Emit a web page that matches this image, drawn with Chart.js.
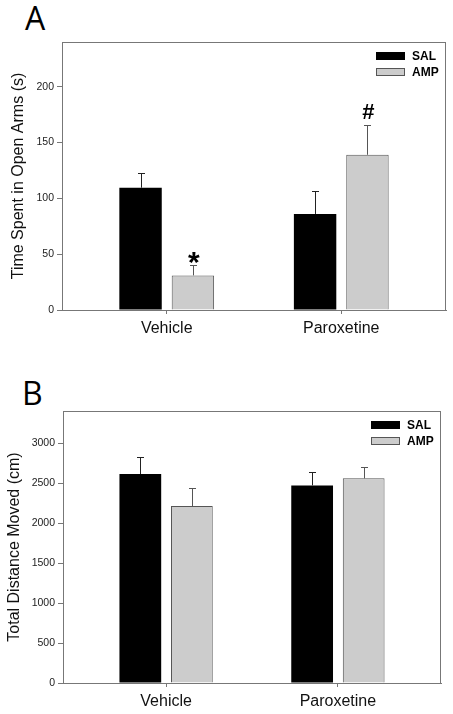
<!DOCTYPE html>
<html>
<head>
<meta charset="utf-8">
<script src="https://cdn.jsdelivr.net/npm/chart.js@4.4.1/dist/chart.umd.min.js"></script>
<style>
  html, body { margin: 0; padding: 0; background: #fff; }
  body { width: 453px; height: 714px; position: relative; overflow: hidden; }
  .panel { position: absolute; left: 0; width: 453px; }
  .letter { position: absolute; font-family: "Open Sans", "Noto Sans", sans-serif; font-size: 32px; color: #000; line-height: 1; }
</style>
</head>
<body>
<div class="letter" style="left:25px; top:2px;">A</div>
<div class="letter" style="left:22px; top:377px;">B</div>
<div class="panel" style="top:0; height:340px;"><canvas id="chartA" width="453" height="340"></canvas></div>
<div class="panel" style="top:340px; height:374px;"><canvas id="chartB" width="453" height="374"></canvas></div>
<script>
// ---- data ----
const categories = ['Vehicle', 'Paroxetine'];
const seriesNames = ['SAL', 'AMP'];

// Panel A: Time spent in open arms (s)
const openArmsSAL = [109.5, 86];
const openArmsAMP = [31, 139];
const openArmsSAL_SE = [13, 20.5];
const openArmsAMP_SE = [9, 27];
const openArmsSAL_marks = ['', ''];
const openArmsAMP_marks = ['*', '#'];
const yTicksA = [0, 50, 100, 150, 200];

// Panel B: Total distance moved (cm)
const distanceSAL = [2612, 2470];
const distanceAMP = [2212, 2558];
const distanceSAL_SE = [208, 162];
const distanceAMP_SE = [225, 146];
const distanceSAL_marks = ['', ''];
const distanceAMP_marks = ['', ''];
const yTicksB = [0, 500, 1000, 1500, 2000, 2500, 3000];

const FONT = '"Liberation Sans", Arial, sans-serif';
const FRAME = '#777777';

const errorBarPlugin = {
  id: 'errorBars',
  afterDatasetsDraw(chart) {
    const ctx = chart.ctx;
    const yScale = chart.scales.y;
    chart.data.datasets.forEach((ds, di) => {
      const meta = chart.getDatasetMeta(di);
      meta.data.forEach((el, i) => {
        const v = ds.data[i].y;
        const se = ds.errors[i];
        const yTop = yScale.getPixelForValue(v + se);
        const x = Math.round(el.x) + 0.5;
        ctx.save();
        ctx.strokeStyle = ds.errorColor;
        ctx.lineWidth = 1;
        ctx.beginPath();
        ctx.moveTo(x, el.y);
        ctx.lineTo(x, Math.round(yTop) + 0.5);
        ctx.moveTo(x - 3.5, Math.round(yTop) + 0.5);
        ctx.lineTo(x + 3.5, Math.round(yTop) + 0.5);
        ctx.stroke();
        const mark = ds.marks[i];
        if (mark) {
          ctx.fillStyle = '#000';
          ctx.textAlign = 'center';
          ctx.textBaseline = 'alphabetic';
          if (mark === '*') {
            ctx.font = 'bold 30px ' + FONT;
            ctx.fillText(mark, el.x + 1, yTop + 7);
          } else {
            ctx.font = 'bold 22px ' + FONT;
            ctx.fillText(mark, el.x + 1, yTop - 6);
          }
        }
        ctx.restore();
      });
    });
  }
};

const framePlugin = {
  id: 'frame',
  afterDraw(chart) {
    const a = chart.chartArea;
    const ctx = chart.ctx;
    ctx.save();
    ctx.strokeStyle = FRAME;
    ctx.lineWidth = 1;
    ctx.strokeRect(Math.round(a.left) + 0.5, Math.round(a.top) + 0.5, Math.round(a.right - a.left) - 1, Math.round(a.bottom - a.top));
    ctx.restore();
  }
};

const legendPlugin = {
  id: 'boxLegend',
  afterDraw(chart) {
    const a = chart.chartArea;
    const ctx = chart.ctx;
    ctx.save();
    chart.data.datasets.forEach((ds, di) => {
      const sx = Math.round(a.right) - 70;
      const sy = Math.round(a.top) + 10 + di * 16;
      ctx.fillStyle = ds.backgroundColor;
      ctx.fillRect(sx, sy, 29, 8);
      ctx.strokeStyle = ds.borderColor;
      ctx.lineWidth = 1;
      ctx.strokeRect(sx + 0.5, sy + 0.5, 28, 7);
      ctx.fillStyle = '#000';
      ctx.font = 'bold 12px ' + FONT;
      ctx.textAlign = 'left';
      ctx.textBaseline = 'middle';
      ctx.fillText(ds.label, sx + 36, sy + 4.5);
    });
    ctx.restore();
  }
};

function toPoints(values) {
  return values.map((v, i) => ({ x: i, y: v }));
}

function makeChart(id, cfg) {
  return new Chart(document.getElementById(id), {
    type: 'bar',
    data: {
      datasets: [
        {
          label: seriesNames[0],
          data: toPoints(cfg.sal),
          errors: cfg.salSE,
          marks: cfg.salMarks,
          backgroundColor: '#000000',
          borderColor: '#000000',
          borderWidth: 0,
          errorColor: '#222222',
          categoryPercentage: 0.6,
          barPercentage: 0.81
        },
        {
          label: seriesNames[1],
          data: toPoints(cfg.amp),
          errors: cfg.ampSE,
          marks: cfg.ampMarks,
          backgroundColor: '#cccccc',
          borderColor: '#555555',
          borderWidth: 1,
          errorColor: '#555555',
          categoryPercentage: 0.6,
          barPercentage: 0.81
        }
      ]
    },
    options: {
      responsive: false,
      animation: false,
      events: [],
      layout: { padding: cfg.padding },
      plugins: { legend: { display: false }, tooltip: { enabled: false } },
      scales: {
        x: {
          type: 'linear',
          min: -0.6,
          max: 1.6,
          offset: false,
          afterBuildTicks(scale) { scale.ticks = categories.map((c, i) => ({ value: i })); },
          afterFit(scale) { scale.height = cfg.xHeight; },
          ticks: {
            autoSkip: false,
            maxRotation: 0,
            padding: 5,
            color: '#111',
            font: { family: FONT, size: 16 },
            callback: (v) => categories[v]
          },
          grid: { display: true, offset: false, drawOnChartArea: false, drawTicks: true, tickLength: 4, color: FRAME },
          border: { display: true, color: FRAME }
        },
        y: {
          min: 0,
          max: cfg.yMax,
          afterBuildTicks(scale) { scale.ticks = cfg.yTicks.map(v => ({ value: v })); },
          afterFit(scale) { scale.width = cfg.yWidth; },
          ticks: {
            padding: 3,
            color: '#222',
            font: { family: FONT, size: 10.5 },
            callback: (v) => String(v)
          },
          grid: { display: true, drawOnChartArea: false, drawTicks: true, tickLength: 5, color: FRAME },
          border: { display: true, color: FRAME },
          title: {
            display: true,
            text: cfg.yTitle,
            color: '#111',
            font: { family: FONT, size: 16 },
            padding: { top: cfg.titlePad, bottom: 0 }
          }
        }
      }
    },
    plugins: [errorBarPlugin, framePlugin, legendPlugin]
  });
}

makeChart('chartA', {
  sal: openArmsSAL, amp: openArmsAMP,
  salSE: openArmsSAL_SE, ampSE: openArmsAMP_SE,
  salMarks: openArmsSAL_marks, ampMarks: openArmsAMP_marks,
  yTicks: yTicksA, yMax: 240,
  yTitle: 'Time Spent in Open Arms (s)',
  padding: { top: 42, right: 7, left: 0, bottom: 0 },
  xHeight: 30, yWidth: 62, titlePad: 9
});

makeChart('chartB', {
  sal: distanceSAL, amp: distanceAMP,
  salSE: distanceSAL_SE, ampSE: distanceAMP_SE,
  salMarks: distanceSAL_marks, ampMarks: distanceAMP_marks,
  yTicks: yTicksB, yMax: 3400,
  yTitle: 'Total Distance Moved (cm)',
  padding: { top: 71, right: 12, left: 0, bottom: 0 },
  xHeight: 31, yWidth: 63, titlePad: 5
});
</script>
</body>
</html>
